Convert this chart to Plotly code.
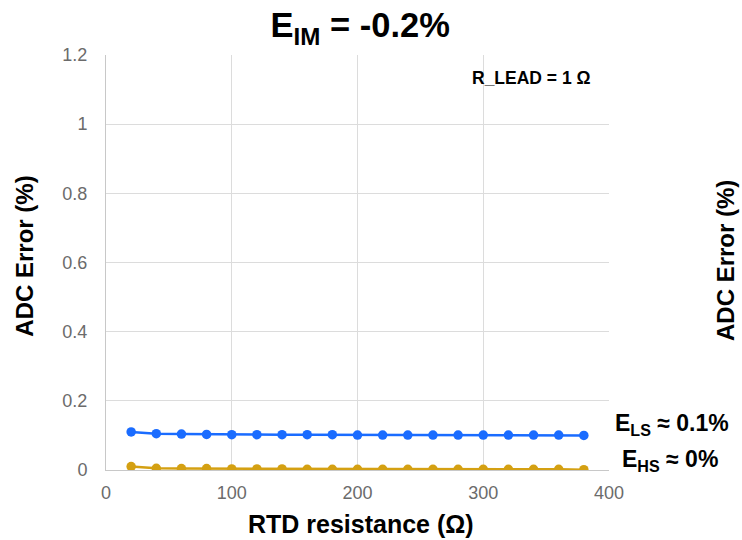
import plotly.graph_objects as go

rtd = [20, 40, 60, 80, 100, 120, 140, 160, 180, 200, 220, 240, 260, 280, 300, 320, 340, 360, 380]
e_ls = [0.110, 0.105, 0.104, 0.103, 0.102, 0.102, 0.102, 0.102, 0.102, 0.101, 0.101, 0.101, 0.101, 0.101, 0.101, 0.101, 0.101, 0.101, 0.100]
e_hs = [0.010, 0.005, 0.004, 0.004, 0.003, 0.003, 0.003, 0.002, 0.002, 0.002, 0.002, 0.002, 0.002, 0.002, 0.002, 0.002, 0.002, 0.002, 0.001]
x_ticks = [0, 100, 200, 300, 400]
y_ticks = [0, 0.2, 0.4, 0.6, 0.8, 1, 1.2]
y_ticktext = ["0", "0.2", "0.4", "0.6", "0.8", "1", "1.2"]

FONT = "Liberation Sans, Arial, sans-serif"
BLUE = "#1a6cff"
GOLD = "#d4a012"

fig = go.Figure()
fig.add_trace(go.Scatter(x=rtd, y=e_ls, mode="lines+markers",
                         line=dict(color=BLUE, width=2.5),
                         marker=dict(color=BLUE, size=9.5), showlegend=False))
fig.add_trace(go.Scatter(x=rtd, y=e_hs, mode="lines+markers",
                         line=dict(color=GOLD, width=2.5),
                         marker=dict(color=GOLD, size=9.5), showlegend=False))

fig.update_layout(
    width=742, height=540,
    margin=dict(l=106, r=133, t=55, b=70),
    plot_bgcolor="white", paper_bgcolor="white",
    font=dict(family=FONT),
    title=dict(text="<b>E<sub>IM</sub> = -0.2%</b>", x=0.4855, xanchor="center",
               y=0.953, yanchor="middle", font=dict(size=34.5, color="black")),
    xaxis=dict(range=[0, 400], tickvals=x_ticks, showgrid=True, gridcolor="#dcdcdc",
               gridwidth=1, zeroline=False, showline=True, linecolor="#c8c8c8",
               ticks="", ticklabelstandoff=6, tickfont=dict(size=18, color="#6b6b6b")),
    yaxis=dict(range=[0, 1.2], tickvals=y_ticks, ticktext=y_ticktext,
               showgrid=True, gridcolor="#dcdcdc", gridwidth=1, zeroline=False,
               showline=True, linecolor="#c8c8c8", ticks="", ticklabelstandoff=14,
               tickfont=dict(size=18, color="#6b6b6b")),
)

# axis titles
fig.add_annotation(text="<b>RTD resistance (Ω)</b>", xref="paper", yref="paper",
                   x=0.507, y=-0.13, xanchor="center", yanchor="middle",
                   showarrow=False, font=dict(size=25, color="black"))
fig.add_annotation(text="<b>ADC Error (%)</b>", xref="paper", yref="paper",
                   x=-0.161, y=0.514, xanchor="center", yanchor="middle", textangle=-90,
                   showarrow=False, font=dict(size=24, color="black"))
fig.add_annotation(text="<b>ADC Error (%)</b>", xref="paper", yref="paper",
                   x=1.2306, y=0.506, xanchor="center", yanchor="middle", textangle=-90,
                   showarrow=False, font=dict(size=24, color="black"))

fig.add_annotation(text="<b>R_LEAD = 1 Ω</b>", xref="paper", yref="paper",
                   x=0.968, y=0.945, xanchor="right", yanchor="middle",
                   showarrow=False, font=dict(size=17.5, color="black"))
fig.add_annotation(text="<b>E<sub>LS</sub> ≈ 0.1%</b>", xref="paper", yref="paper",
                   x=1.008, y=0.11, xanchor="left", yanchor="middle",
                   showarrow=False, font=dict(size=23, color="black"))
fig.add_annotation(text="<b>E<sub>HS</sub> ≈ 0%</b>", xref="paper", yref="paper",
                   x=1.022, y=0.023, xanchor="left", yanchor="middle",
                   showarrow=False, font=dict(size=23, color="black"))

fig.write_html("out.html")
